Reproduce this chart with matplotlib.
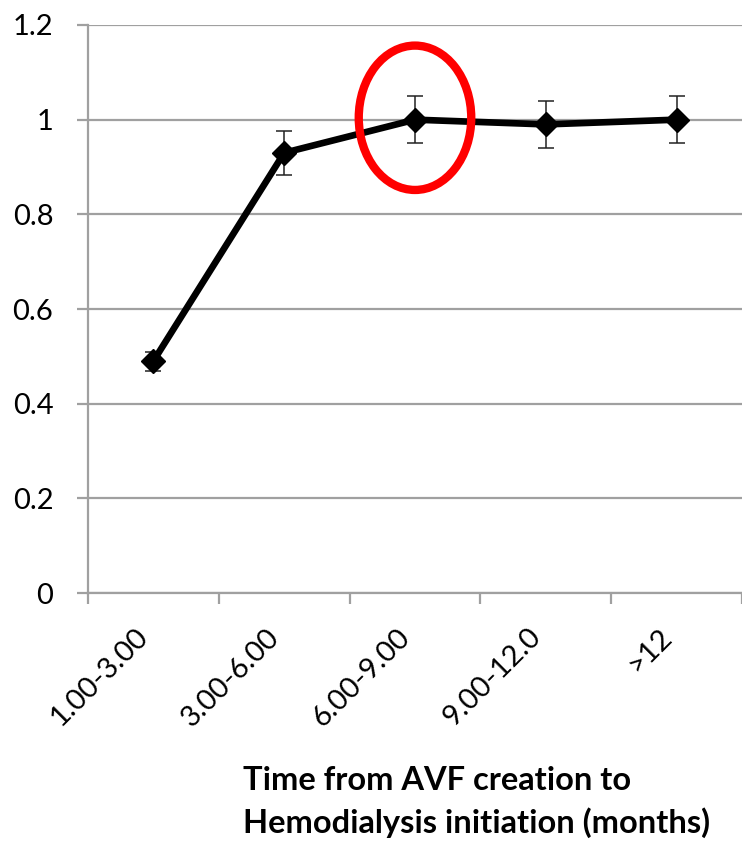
import numpy as np
import matplotlib.pyplot as plt
from matplotlib.patches import Ellipse

plt.rcParams['font.family'] = ['Lato', 'DejaVu Sans']

# Дані графіка
categories = ['1.00-3.00', '3.00-6.00', '6.00-9.00', '9.00-12.0', '>12']
values = [0.49, 0.93, 1.00, 0.99, 1.00]
errors = [0.02, 0.047, 0.05, 0.05, 0.05]
highlight = 2  # виділена категорія

x = np.arange(len(categories))
grid_color = '#a0a0a0'

fig = plt.figure(figsize=(7.42, 8.42), dpi=100)
ax = fig.add_axes([88 / 742, 1 - 593 / 842, 1 - 88 / 742, (593 - 25) / 842])

# Сітка
ax.set_ylim(0, 1.2)
ax.set_yticks(np.arange(0, 1.21, 0.2))
ax.set_yticklabels(['0', '0.2', '0.4', '0.6', '0.8', '1', '1.2'])
ax.yaxis.grid(True, color=grid_color, linewidth=1.6)
ax.set_axisbelow(True)

# Лінія з похибками
ax.errorbar(x, values, yerr=errors, color='black', linewidth=4.8,
            marker='D', markersize=12.5, ecolor='#222222', elinewidth=1.1,
            capsize=6, capthick=1.1, zorder=3)

# Осі
ax.set_xlim(-0.5, len(categories) - 0.5)
ax.set_xticks(x)
ax.set_xticklabels(categories, rotation=45, ha='right', va='top',
                   fontsize=21)
ax.set_xticks(np.arange(-0.5, len(categories), 1.0), minor=True)
ax.tick_params(axis='x', which='major', length=0, pad=22)
ax.tick_params(axis='x', which='minor', length=8, width=1.6, color=grid_color)
ax.tick_params(axis='y', length=8, width=1.6, color=grid_color,
               labelsize=21, pad=17)

for side in ['top', 'right']:
    ax.spines[side].set_visible(False)
ax.spines['left'].set_color(grid_color)
ax.spines['left'].set_linewidth(1.6)
ax.spines['bottom'].set_color(grid_color)
ax.spines['bottom'].set_linewidth(1.6)

# Червоний овал навколо точки
ax.add_patch(Ellipse((x[highlight], values[highlight] + 0.004), 0.86, 0.305,
                     fill=False, edgecolor='#ff0000', linewidth=6,
                     zorder=4, clip_on=False))

fig.text(243 / 742, 1 - 802 / 842,
         'Time from AVF creation to\nHemodialysis initiation (months)',
         ha='left', va='center', fontsize=23.5, fontweight='bold',
         linespacing=1.5)

fig.savefig('out.png', dpi=100)
